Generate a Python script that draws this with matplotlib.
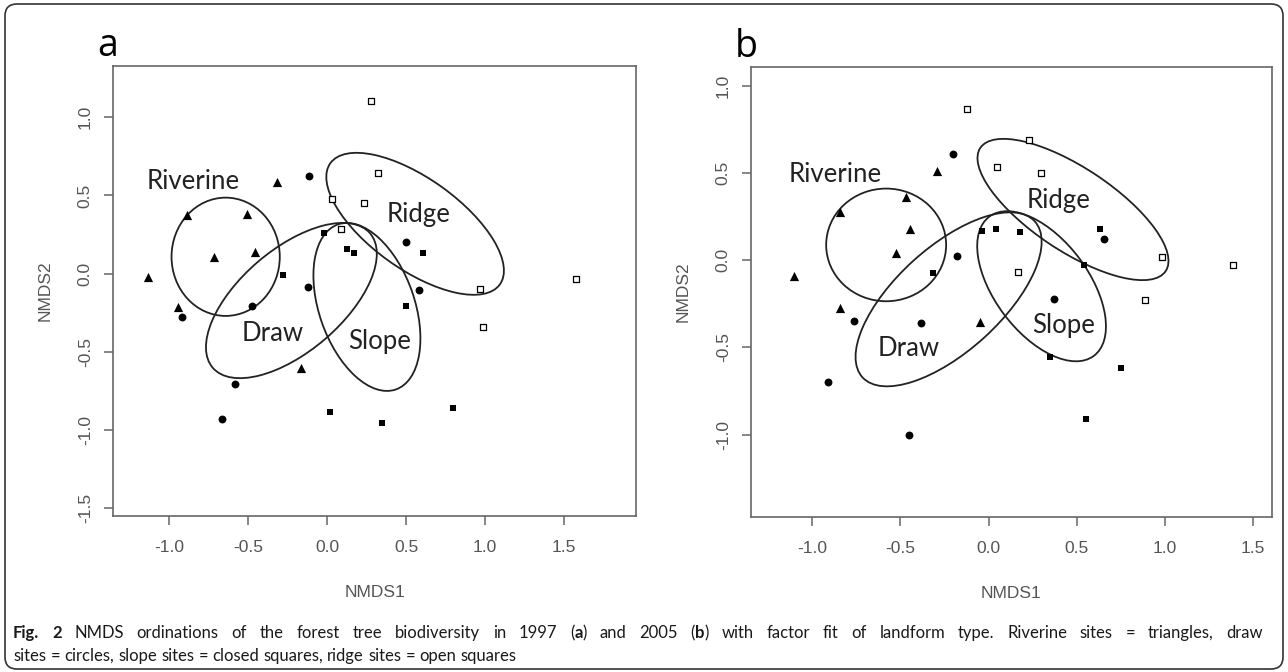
import numpy as np
import matplotlib.pyplot as plt
from matplotlib.patches import Ellipse, FancyBboxPatch
from matplotlib.ticker import FormatStrFormatter
from matplotlib.transforms import IdentityTransform

plt.rcParams['axes.unicode_minus'] = False

# ---- panel a (1997) site scores ----
riv_a_x = [-0.316, -0.889, -0.510, -0.715, -0.459, -1.136, -0.946, -0.166]
riv_a_y = [0.588, 0.374, 0.381, 0.104, 0.136, -0.020, -0.212, -0.607]
draw_a_x = [-0.116, -0.120, -0.474, -0.917, 0.498, 0.582, -0.582, -0.668]
draw_a_y = [0.622, -0.084, -0.206, -0.280, 0.200, -0.106, -0.709, -0.932]
slope_a_x = [-0.021, 0.127, 0.169, -0.276, 0.607, 0.498, 0.021, 0.350, 0.797]
slope_a_y = [0.257, 0.159, 0.133, -0.010, 0.129, -0.206, -0.885, -0.959, -0.863]
ridge_a_x = [0.276, 0.319, 0.034, 0.234, 0.091, 0.966, 1.573, 0.989]
ridge_a_y = [1.104, 0.645, 0.475, 0.453, 0.283, -0.101, -0.033, -0.344]

# ---- panel b (2005) site scores ----
riv_b_x = [-0.294, -0.467, -0.845, -0.445, -0.526, -1.106, -0.845, -0.048]
riv_b_y = [0.510, 0.363, 0.277, 0.182, 0.044, -0.092, -0.271, -0.354]
draw_b_x = [-0.203, -0.180, 0.656, 0.373, -0.766, -0.382, -0.913, -0.449]
draw_b_y = [0.612, 0.023, 0.120, -0.220, -0.350, -0.357, -0.698, -0.999]
slope_b_x = [-0.316, -0.039, 0.042, 0.178, 0.632, 0.543, 0.345, 0.751, 0.549]
slope_b_y = [-0.071, 0.168, 0.178, 0.162, 0.180, -0.029, -0.554, -0.617, -0.908]
ridge_b_x = [-0.124, 0.050, 0.229, 0.296, 0.981, 1.387, 0.165, 0.887]
ridge_b_y = [0.868, 0.535, 0.688, 0.503, 0.019, -0.029, -0.067, -0.229]

groups = ['Riverine', 'Draw', 'Slope', 'Ridge']

# ellipse fits: centre x, centre y, width, height, angle
ell_a = [(-0.642, 0.107, 0.685, 0.757, 0),
         (-0.226, -0.173, 1.316, 0.652, 41),
         (0.252, -0.214, 1.118, 0.604, -71),
         (0.557, 0.318, 1.324, 0.580, -36)]
ell_b = [(-0.581, 0.088, 0.680, 0.646, 0),
         (-0.227, -0.224, 1.324, 0.596, 42.6),
         (0.300, -0.149, 0.994, 0.534, -53.6),
         (0.478, 0.291, 1.266, 0.475, -34)]

lab_a = [(-0.848, 0.588), (-0.342, -0.383), (0.333, -0.437), (0.576, 0.375)]
lab_b = [(-0.870, 0.493), (-0.454, -0.506), (0.424, -0.373), (0.396, 0.344)]

W, H = 1288, 672
fig = plt.figure(figsize=(W / 100, H / 100), dpi=100)

# rounded frame round the whole figure
frame = FancyBboxPatch((5, 3), W - 10, H - 7, boxstyle='round,pad=0,rounding_size=12',
                       transform=IdentityTransform(), fill=False, ec='#333333', lw=1.2)
fig.patches.append(frame)

axis_grey = '#555555'


def panel(rect, pts, ells, labs, xlim, ylim, yticks, letter):
    ax = fig.add_axes(rect)
    (rx, ry), (dx, dy), (sx, sy), (gx, gy) = pts
    ax.scatter(rx, ry, marker='^', s=44, c='black', lw=0, zorder=3)
    ax.scatter(dx, dy, marker='o', s=32, c='black', lw=0, zorder=3)
    ax.scatter(sx, sy, marker='s', s=24, c='black', lw=0, zorder=3)
    ax.scatter(gx, gy, marker='s', s=22, facecolors='white', edgecolors='black', lw=0.9, zorder=3)
    for cx, cy, w, h, ang in ells:
        ax.add_patch(Ellipse((cx, cy), w, h, angle=ang, fill=False, ec='#222222', lw=1.3))
    for name, (tx, ty) in zip(groups, labs):
        ax.text(tx, ty, name, ha='center', va='center', fontsize=18.5, family='Lato', color='#222222')
    ax.set_xlim(*xlim)
    ax.set_ylim(*ylim)
    ax.set_xticks([-1.0, -0.5, 0.0, 0.5, 1.0, 1.5])
    ax.set_yticks(yticks)
    ax.xaxis.set_major_formatter(FormatStrFormatter('%.1f'))
    ax.yaxis.set_major_formatter(FormatStrFormatter('%.1f'))
    for sp in ax.spines.values():
        sp.set_color('#666666')
        sp.set_linewidth(1.2)
    ax.tick_params(length=6.5, width=1.1, color='#666666', labelcolor=axis_grey,
                   labelsize=12.5, labelfontfamily='Liberation Sans')
    ax.tick_params(axis='x', pad=11)
    ax.tick_params(axis='y', pad=8, labelrotation=90)
    for t in ax.get_yticklabels():
        t.set_va('center')
    ax.set_xlabel('NMDS1', fontsize=12.5, family='Liberation Sans', color=axis_grey)
    ax.set_ylabel('NMDS2', fontsize=12.5, family='Liberation Sans', color=axis_grey)
    ax.xaxis.set_label_coords(0.5, -0.171)
    ax.xaxis.label.set_va('center')
    ax.yaxis.set_label_coords(-0.130, 0.5)
    ax.yaxis.label.set_va('center')
    ax.text(-0.01, 1.045, letter, transform=ax.transAxes, fontsize=27,
            family='Open Sans', ha='center', va='center', color='black')
    return ax


panel([113 / W, 156 / H, 523 / W, 450 / H],
      [(riv_a_x, riv_a_y), (draw_a_x, draw_a_y), (slope_a_x, slope_a_y), (ridge_a_x, ridge_a_y)],
      ell_a, lab_a, (-1.355, 1.955), (-1.552, 1.328), [-1.5, -1.0, -0.5, 0.0, 0.5, 1.0], 'a')
panel([751 / W, 155 / H, 521 / W, 450 / H],
      [(riv_b_x, riv_b_y), (draw_b_x, draw_b_y), (slope_b_x, slope_b_y), (ridge_b_x, ridge_b_y)],
      ell_b, lab_b, (-1.347, 1.606), (-1.472, 1.108), [-1.0, -0.5, 0.0, 0.5, 1.0], 'b')

# caption: first line justified, with inline bold pieces; **x** marks bold
caption_line1 = ('**Fig.** **2** NMDS ordinations of the forest tree biodiversity in 1997 (**a**) '
                 'and 2005 (**b**) with factor fit of landform type. Riverine sites = triangles, draw')
caption_line2 = 'sites = circles, slope sites = closed squares, ridge sites = open squares'

cap_size = 12
cap_left, cap_right = 13, 1263
renderer = fig.canvas.get_renderer()


def split_word(word):
    parts = word.split('**')
    return [(p, 'bold' if i % 2 else 'normal') for i, p in enumerate(parts) if p]


def seg_width(txt, wt):
    t = fig.text(0, 0, txt, fontsize=cap_size, family='Lato', weight=wt)
    w = t.get_window_extent(renderer).width
    t.remove()
    return w


def write_line(line, base_y, justify):
    words = [split_word(w) for w in line.split(' ')]
    widths = [sum(seg_width(t, wt) for t, wt in wd) for wd in words]
    space = seg_width('a a', 'normal') - 2 * seg_width('a', 'normal')
    if justify:
        space = (cap_right - cap_left - sum(widths)) / (len(words) - 1)
    x = cap_left
    for wd, ww in zip(words, widths):
        xx = x
        for t, wt in wd:
            fig.text(xx / W, 1 - base_y / H, t, fontsize=cap_size, family='Lato',
                     weight=wt, ha='left', va='baseline', color='#1a1a1a')
            xx += seg_width(t, wt)
        x += ww + space


write_line(caption_line1, 638, True)
write_line(caption_line2, 661, False)

fig.savefig('out.png', dpi=100)
